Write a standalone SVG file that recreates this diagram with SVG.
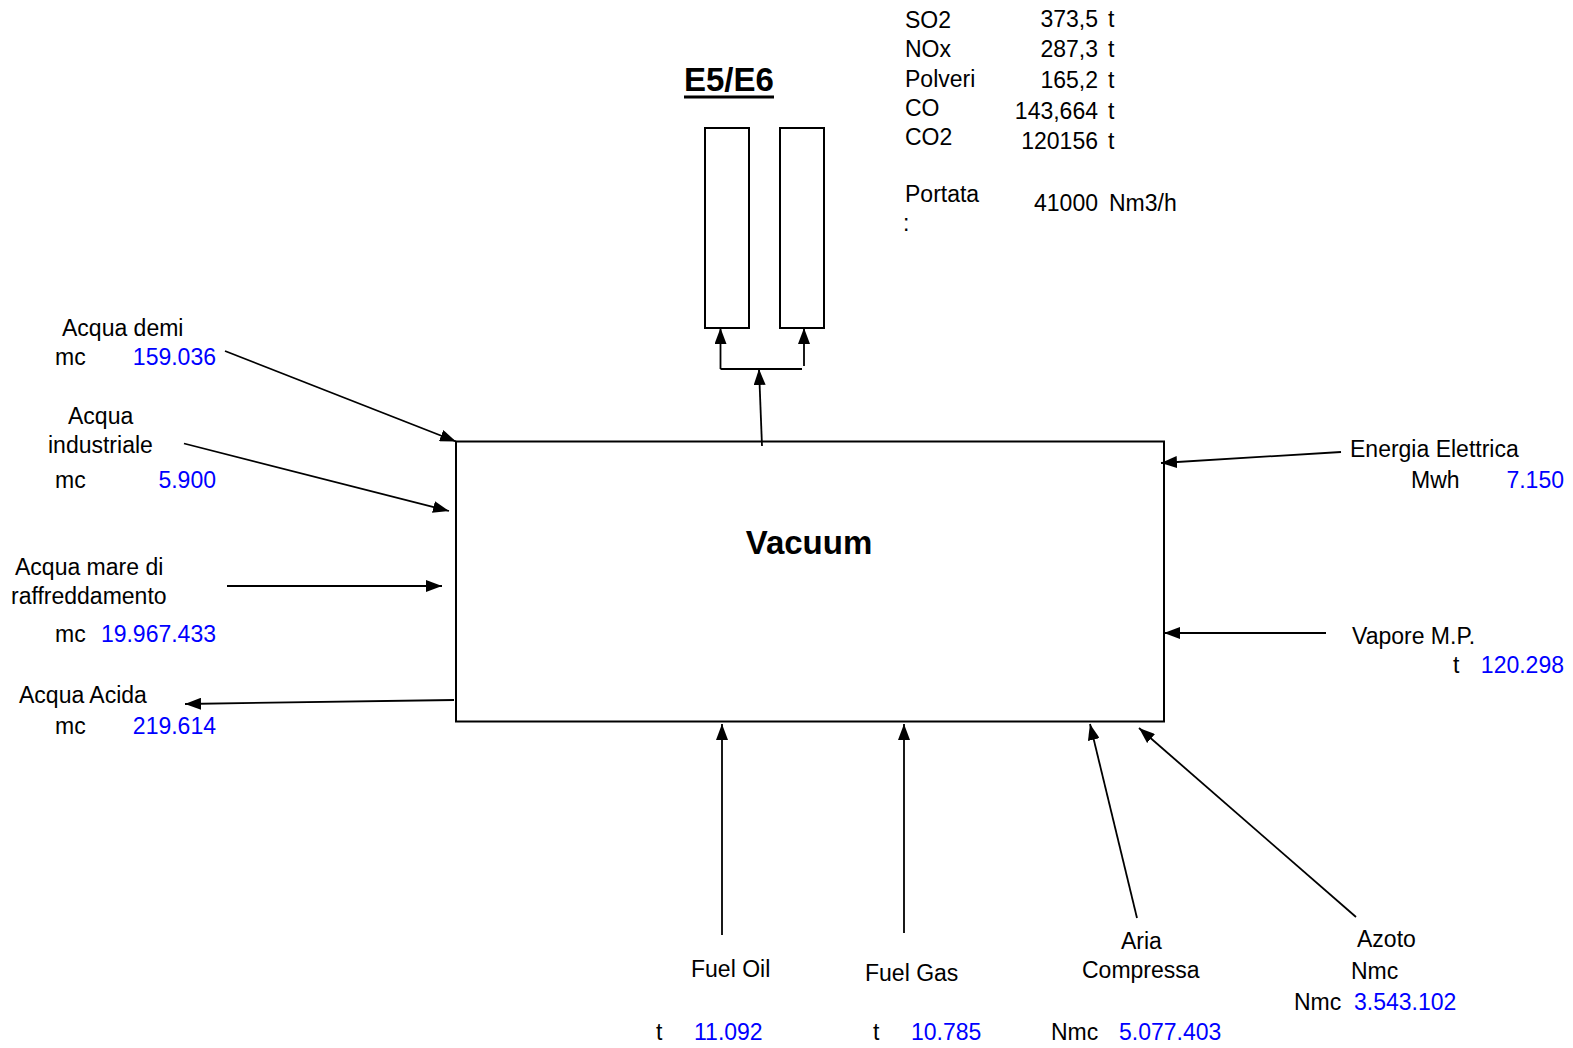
<svg xmlns="http://www.w3.org/2000/svg" width="1573" height="1048" viewBox="0 0 1573 1048">
<style>
text{font-family:"Liberation Sans",Arial,sans-serif;font-size:23px;fill:#000}
.v{fill:#0000ff}
.e{text-anchor:end}
.b{font-weight:bold}
.ln{stroke:#000;stroke-width:1.8;fill:none}
.box{stroke:#000;stroke-width:2;fill:#fff}
</style>
<defs>
<marker id="ah" viewBox="0 0 16 12" refX="16" refY="6" markerWidth="16" markerHeight="12" orient="auto" markerUnits="userSpaceOnUse"><path d="M0,0 L16,6 L0,12 z" fill="#000"/></marker>
</defs>
<rect width="1573" height="1048" fill="#fff"/>

<g id="vacuum">
<rect class="box" x="456" y="441.5" width="708" height="280"/>
<text class="b" x="809" y="554" text-anchor="middle" style="font-size:33px">Vacuum</text>
</g>

<g id="stacks">
<rect class="box" x="705" y="128" width="44" height="200"/>
<rect class="box" x="780" y="128" width="44" height="200"/>
<text class="b" x="684" y="91" style="font-size:33px">E5/E6</text>
<rect x="684" y="95.5" width="90" height="3" fill="#000"/>
</g>

<g id="emissions">
<text x="905" y="28">SO2</text><text class="e" x="1098" y="27">373,5</text><text x="1108" y="27">t</text>
<text x="905" y="57">NOx</text><text class="e" x="1098" y="57">287,3</text><text x="1108" y="57">t</text>
<text x="905" y="87">Polveri</text><text class="e" x="1098" y="88">165,2</text><text x="1108" y="88">t</text>
<text x="905" y="116">CO</text><text class="e" x="1098" y="119">143,664</text><text x="1108" y="119">t</text>
<text x="905" y="145">CO2</text><text class="e" x="1098" y="149">120156</text><text x="1108" y="149">t</text>
<text x="905" y="202">Portata</text><text class="e" x="1098" y="211">41000</text><text x="1109" y="211">Nm3/h</text>
<text x="903" y="231">:</text>
</g>

<g id="acqua-demi">
<text x="62" y="336">Acqua demi</text>
<text x="55" y="365">mc</text><text class="v e" x="216" y="365">159.036</text>
</g>
<g id="acqua-industriale">
<text x="68" y="424">Acqua</text>
<text x="48" y="453">industriale</text>
<text x="55" y="488">mc</text><text class="v e" x="216" y="488">5.900</text>
</g>
<g id="acqua-mare">
<text x="15" y="575">Acqua mare di</text>
<text x="11" y="604">raffreddamento</text>
<text x="55" y="642">mc</text><text class="v e" x="216" y="642">19.967.433</text>
</g>
<g id="acqua-acida">
<text x="19" y="703">Acqua Acida</text>
<text x="55" y="734">mc</text><text class="v e" x="216" y="734">219.614</text>
</g>

<g id="energia-elettrica">
<text x="1350" y="457">Energia Elettrica</text>
<text x="1411" y="488">Mwh</text><text class="v e" x="1564" y="488">7.150</text>
</g>
<g id="vapore">
<text x="1352" y="644">Vapore M.P.</text>
<text x="1453" y="673">t</text><text class="v e" x="1564" y="673">120.298</text>
</g>

<g id="fuel-oil">
<text x="691" y="977">Fuel Oil</text>
<text x="656" y="1040">t</text><text class="v" x="694" y="1040">11.092</text>
</g>
<g id="fuel-gas">
<text x="865" y="981">Fuel Gas</text>
<text x="873" y="1040">t</text><text class="v" x="911" y="1040">10.785</text>
</g>
<g id="aria-compressa">
<text x="1121" y="949">Aria</text>
<text x="1082" y="978">Compressa</text>
<text x="1051" y="1040">Nmc</text><text class="v" x="1119" y="1040">5.077.403</text>
</g>
<g id="azoto">
<text x="1357" y="947">Azoto</text>
<text x="1351" y="979">Nmc</text>
<text x="1294" y="1010">Nmc</text><text class="v" x="1354" y="1010">3.543.102</text>
</g>

<g id="connectors">
<line class="ln" x1="762" y1="446" x2="759" y2="369" marker-end="url(#ah)"/>
<line class="ln" x1="720.5" y1="369" x2="720.5" y2="328" marker-end="url(#ah)"/>
<line class="ln" x1="720.5" y1="369" x2="802" y2="369"/>
<line class="ln" x1="804" y1="366" x2="804" y2="328" marker-end="url(#ah)"/>
<line class="ln" x1="225" y1="351" x2="456" y2="441.5" marker-end="url(#ah)"/>
<line class="ln" x1="184" y1="443.5" x2="449" y2="511" marker-end="url(#ah)"/>
<line class="ln" x1="227" y1="586" x2="442" y2="586" marker-end="url(#ah)"/>
<line class="ln" x1="454" y1="700" x2="185" y2="704" marker-end="url(#ah)"/>
<line class="ln" x1="1341" y1="452" x2="1161" y2="463" marker-end="url(#ah)"/>
<line class="ln" x1="1326" y1="633" x2="1164" y2="633" marker-end="url(#ah)"/>
<line class="ln" x1="722" y1="935" x2="722" y2="724" marker-end="url(#ah)"/>
<line class="ln" x1="904" y1="933" x2="904" y2="724" marker-end="url(#ah)"/>
<line class="ln" x1="1137" y1="918" x2="1090" y2="724" marker-end="url(#ah)"/>
<line class="ln" x1="1356" y1="917" x2="1139" y2="728" marker-end="url(#ah)"/>
</g>
</svg>
